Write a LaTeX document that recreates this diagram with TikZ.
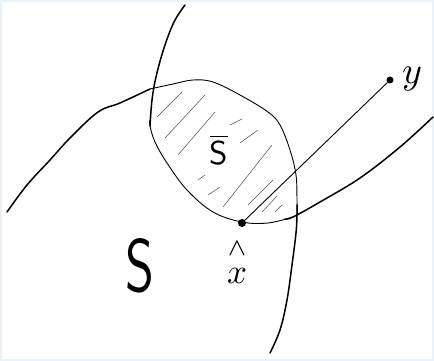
\documentclass[tikz,border=0pt]{standalone}
\usepackage{amsmath}
\definecolor{frame}{HTML}{E8F2F8}
\tikzset{
  thickline/.style={line width=1.5pt, line cap=round, line join=round},
  thinline/.style={line width=0.9pt, line cap=round, line join=round},
  hatch/.style={line width=0.5pt, black!70, line cap=round},
  dot/.style={circle, fill=black, inner sep=0pt},
  lbl/.style={inner sep=0pt}
}
\begin{document}
\begin{tikzpicture}[x=1pt,y=-1pt]
\useasboundingbox (0,0) rectangle (434,361);
\fill[frame] (0,0) rectangle (434,361);
\fill[white] (2,2) rectangle (432,359);
% curve A
\draw[thickline] plot[smooth,tension=0.6] coordinates {(185,5) (174,22) (164,48) (156,77) (152,100) (150,126)};
\draw[thinline] plot[smooth,tension=0.6] coordinates {(150,120) (150,126) (155,142) (167,163) (187,190) (213,212) (242,222) (268,223) (293,217)};
\draw[thickline] plot[smooth,tension=0.6] coordinates {(285,219) (293,217) (320,202) (360,178) (400,147) (433,117)};
% curve B
\draw[thickline] plot[smooth,tension=0.6] coordinates {(7,212) (27,185) (50,160) (70,138) (98,112) (120,103) (150,89)};
\draw[thinline] plot[smooth,tension=0.6] coordinates {(150,89) (173,84) (193,80) (213,82) (240,95) (268,112) (280,125) (290,150) (296,175) (297,200) (297,215)};
\draw[thickline] plot[smooth,tension=0.6] coordinates {(297,205) (297,215) (296,233) (292,265) (287,300) (280,330) (270,353)};
% hatching
\draw[hatch] (157,117) -- (182,92);
\draw[hatch] (165,138) -- (205,95);
\draw[hatch] (178,155) -- (215,112);
\draw[hatch] (230,125) -- (242,119);
\draw[hatch] (240,143) -- (258,130);
\draw[hatch] (198,180) -- (205,175);
\draw[hatch] (208,195) -- (220,187);
\draw[hatch] (223,207) -- (272,145);
\draw[hatch] (248,205) -- (273,180);
\draw[hatch] (262,212) -- (277,196);
\draw[hatch] (275,212) -- (282,205);
% points
\node[dot, minimum size=8pt] (xh) at (242,223) {};
\node[dot, minimum size=7pt] (y) at (390,80) {};
\draw[thinline] (xh) -- (y);
% labels
\node[lbl, xscale=5.2, yscale=7.4] (S) at (140,266) {\sffamily S};
\node[lbl, scale=3.3] (Sbar) at (219,150) {$\overline{\textsf{S}}$};
\node[lbl, scale=3.5] (xlab) at (237,263) {\shortstack{$\scriptstyle\wedge$\\[0.6pt]$x$}};
\node[lbl, scale=3.8] (ylab) at (412,79) {$y$};
\end{tikzpicture}
\end{document}
